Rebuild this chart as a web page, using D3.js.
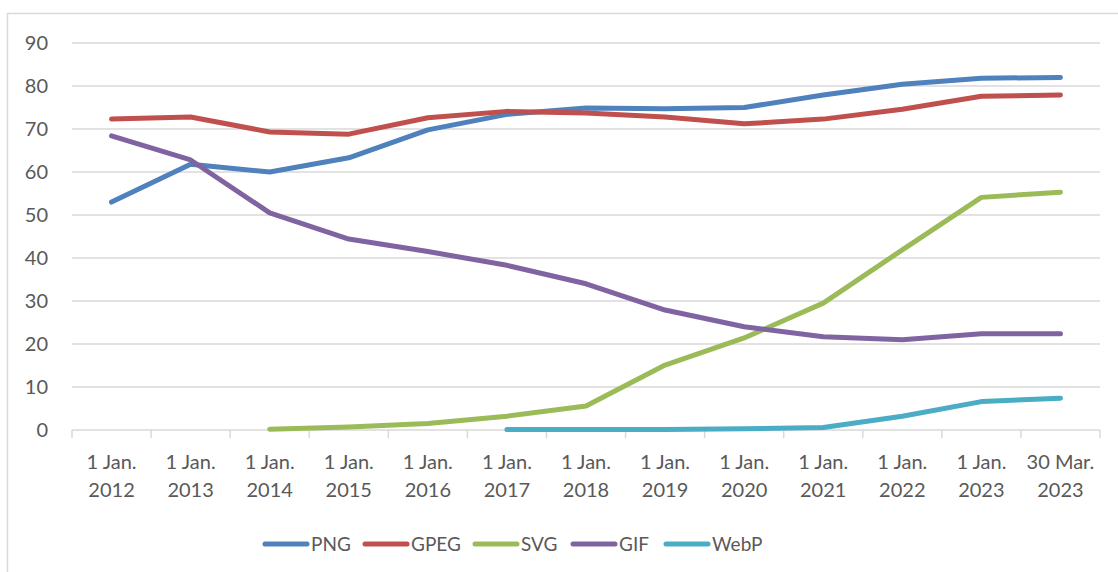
<!DOCTYPE html>
<html>
<head>
<meta charset="utf-8">
<script src="https://cdn.jsdelivr.net/npm/d3@7"></script>
<style>
  html, body { margin: 0; padding: 0; background: #fff; }
  svg { display: block; }
  text { font-family: Lato, "Open Sans", sans-serif; fill: #595959; }
</style>
</head>
<body>
<svg id="chart" width="1118" height="572"></svg>
<script>
// Image format usage share (%) by date
const categories = [
  ["1 Jan.", "2012"], ["1 Jan.", "2013"], ["1 Jan.", "2014"], ["1 Jan.", "2015"],
  ["1 Jan.", "2016"], ["1 Jan.", "2017"], ["1 Jan.", "2018"], ["1 Jan.", "2019"],
  ["1 Jan.", "2020"], ["1 Jan.", "2021"], ["1 Jan.", "2022"], ["1 Jan.", "2023"],
  ["30 Mar.", "2023"]
];
const png  = [53.0, 61.8, 60.0, 63.3, 69.8, 73.4, 74.9, 74.7, 75.0, 77.9, 80.4, 81.8, 82.0];
const gpeg = [72.3, 72.8, 69.3, 68.8, 72.6, 74.1, 73.7, 72.8, 71.2, 72.3, 74.6, 77.6, 77.9];
const svgS = [null, null, 0.2, 0.7, 1.5, 3.2, 5.6, 15.1, 21.4, 29.5, 41.9, 54.1, 55.3];
const gif  = [68.4, 62.8, 50.5, 44.4, 41.5, 38.3, 34.0, 27.9, 24.0, 21.7, 21.0, 22.4, 22.4];
const webp = [null, null, null, null, null, 0.1, 0.1, 0.1, 0.3, 0.6, 3.2, 6.6, 7.4];
const yTicks = [0, 10, 20, 30, 40, 50, 60, 70, 80, 90];

const series = [
  { name: "PNG",  values: png,  color: "#4F81BD" },
  { name: "GPEG", values: gpeg, color: "#C0504D" },
  { name: "SVG",  values: svgS, color: "#9BBB59" },
  { name: "GIF",  values: gif,  color: "#8064A2" },
  { name: "WebP", values: webp, color: "#4BACC6" }
];

const svg = d3.select("#chart");
const plot = { left: 72, right: 1100, top: 43, bottom: 430 };

// outer chart frame
svg.append("rect")
  .attr("x", 7.5).attr("y", 13.5)
  .attr("width", 1130).attr("height", 600)
  .attr("fill", "none").attr("stroke", "#d9d9d9").attr("stroke-width", 1.5);

const x = d3.scaleBand()
  .domain(d3.range(categories.length))
  .range([plot.left, plot.right])
  .paddingInner(0).paddingOuter(0);

const y = d3.scaleLinear().domain([0, 90]).range([plot.bottom, plot.top]);

// horizontal gridlines
svg.append("g")
  .selectAll("line")
  .data(yTicks.filter(d => d > 0))
  .join("line")
  .attr("x1", plot.left).attr("x2", plot.right)
  .attr("y1", d => y(d)).attr("y2", d => y(d))
  .attr("stroke", "#d9d9d9").attr("stroke-width", 1.5);

// y axis labels
const yAxis = d3.axisLeft(y).tickValues(yTicks).tickSize(0).tickPadding(24);
const yg = svg.append("g").attr("transform", `translate(${plot.left},0)`).call(yAxis);
yg.select(".domain").remove();
yg.selectAll("text")
  .style("font-size", "20px")
  .style("font-family", "Lato, 'Open Sans', sans-serif")
  .attr("fill", "#595959");

// x axis with category boundary ticks
const xg = svg.append("g").attr("transform", `translate(0,${plot.bottom})`);
xg.append("line")
  .attr("x1", plot.left).attr("x2", plot.right)
  .attr("stroke", "#d9d9d9").attr("stroke-width", 1.5);
const boundaries = d3.range(categories.length + 1).map(i =>
  i < categories.length ? x(i) : x(categories.length - 1) + x.bandwidth());
xg.selectAll("line.tick")
  .data(boundaries)
  .join("line")
  .attr("class", "tick")
  .attr("x1", d => d).attr("x2", d => d)
  .attr("y1", 0).attr("y2", 8)
  .attr("stroke", "#d9d9d9").attr("stroke-width", 1.5);

const labels = xg.selectAll("text.cat")
  .data(categories)
  .join("text")
  .attr("class", "cat")
  .attr("text-anchor", "middle")
  .style("font-size", "20px");
labels.append("tspan")
  .attr("x", (d, i) => x(i) + x.bandwidth() / 2)
  .attr("y", 39)
  .text(d => d[0]);
labels.append("tspan")
  .attr("x", (d, i) => x(i) + x.bandwidth() / 2)
  .attr("y", 67)
  .text(d => d[1]);

// series lines
const line = d3.line()
  .defined(d => d != null)
  .x((d, i) => x(i) + x.bandwidth() / 2)
  .y(d => y(d));

svg.append("g")
  .selectAll("path")
  .data(series)
  .join("path")
  .attr("d", s => line(s.values))
  .attr("fill", "none")
  .attr("stroke", s => s.color)
  .attr("stroke-width", 5)
  .attr("stroke-linecap", "round")
  .attr("stroke-linejoin", "round");

// legend
const legendX = [263, 363, 473, 571, 664];
const lg = svg.append("g").attr("transform", "translate(0,544)");
const items = lg.selectAll("g")
  .data(series)
  .join("g")
  .attr("transform", (d, i) => `translate(${legendX[i]},0)`);
items.append("line")
  .attr("x1", 2).attr("x2", 44)
  .attr("stroke", d => d.color)
  .attr("stroke-width", 5)
  .attr("stroke-linecap", "round");
items.append("text")
  .attr("x", 48).attr("y", 7)
  .style("font-size", "19px")
  .text(d => d.name);
</script>
</body>
</html>
